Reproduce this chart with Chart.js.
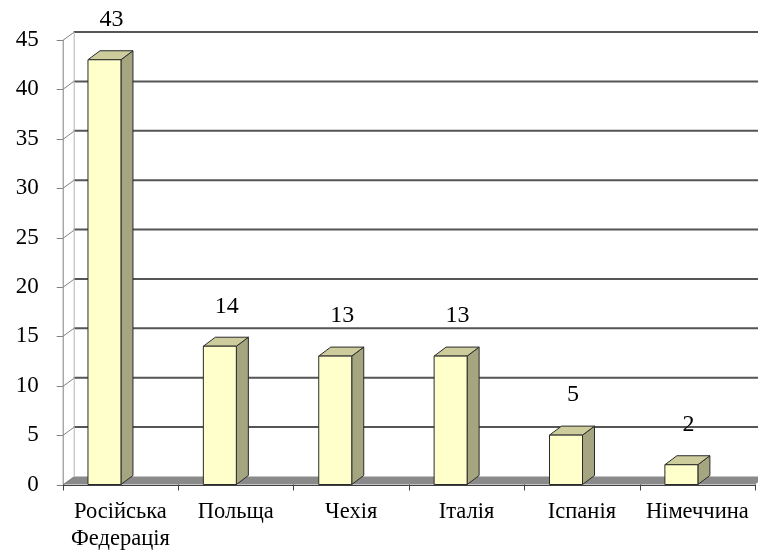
<!DOCTYPE html>
<html><head><meta charset="utf-8">
<script src="https://cdn.jsdelivr.net/npm/chart.js@4.4.0/dist/chart.umd.min.js"></script>
<style>html,body{margin:0;padding:0;background:#fff;}#wrap{width:758px;height:552px;position:relative;}</style>
</head><body><div id="wrap"><canvas id="c" width="758" height="552"></canvas></div>
<script>
const categories = [['Російська','Федерація'], 'Польща', 'Чехія', 'Італія', 'Іспанія', 'Німеччина'];
const values = [43, 14, 13, 13, 5, 2];
const yMin = 0, yMax = 45, yStep = 5;

const FONT = 'Liberation Serif, Times New Roman, serif';
const WALL = {dx: 11, dy: -8};
const BAR = {dx: 12, dy: -9};

const threeD = {
  id: 'threeD',
  beforeDatasetsDraw(chart) {
    const {ctx, chartArea: a, scales: {x, y}} = chart;
    const W = chart.width;
    const y0 = y.getPixelForValue(0);
    ctx.save();
    // floor
    ctx.fillStyle = '#8a8a8a';
    ctx.beginPath();
    ctx.moveTo(a.left, y0); ctx.lineTo(a.right, y0);
    ctx.lineTo(a.right + WALL.dx, y0 + WALL.dy); ctx.lineTo(a.left + WALL.dx, y0 + WALL.dy);
    ctx.closePath(); ctx.fill();
    // back wall gridlines
    y.ticks.forEach(t => {
      if (t.value === 0) return;
      const yy = y.getPixelForValue(t.value) + WALL.dy;
      ctx.strokeStyle = '#555555'; ctx.lineWidth = 2;
      ctx.beginPath(); ctx.moveTo(a.left + WALL.dx, yy); ctx.lineTo(W, yy); ctx.stroke();
    });
    // left wall back edge
    ctx.strokeStyle = '#b4b4b4'; ctx.lineWidth = 1;
    ctx.beginPath();
    ctx.moveTo(a.left + WALL.dx + 0.5, y.getPixelForValue(yMax) + WALL.dy);
    ctx.lineTo(a.left + WALL.dx + 0.5, y0 + WALL.dy); ctx.stroke();
    // front axis line + connectors + tick marks
    ctx.strokeStyle = '#808080'; ctx.lineWidth = 1;
    ctx.beginPath();
    ctx.moveTo(a.left + 0.5, y.getPixelForValue(yMax)); ctx.lineTo(a.left + 0.5, y0); ctx.stroke();
    y.ticks.forEach(t => {
      const yy = Math.round(y.getPixelForValue(t.value)) + 0.5;
      ctx.beginPath();
      ctx.moveTo(a.left - 6, yy); ctx.lineTo(a.left, yy);
      ctx.lineTo(a.left + WALL.dx, yy + WALL.dy);
      ctx.stroke();
    });
    // bottom axis
    ctx.strokeStyle = '#404040';
    ctx.beginPath(); ctx.moveTo(a.left, Math.round(y0) + 0.5); ctx.lineTo(a.right, Math.round(y0) + 0.5); ctx.stroke();
    const n = chart.data.labels.length;
    const cw = (a.right - a.left) / n;
    for (let i = 0; i <= n; i++) {
      const xx = Math.round(x.getPixelForValue(0) - cw / 2 + i * cw) + 0.5;
      ctx.beginPath(); ctx.moveTo(xx, y0); ctx.lineTo(xx, y0 + 6); ctx.stroke();
    }
    ctx.restore();
  },
  afterDatasetsDraw(chart) {
    const {ctx, chartArea: a} = chart;
    const meta = chart.getDatasetMeta(0);
    const n = chart.data.labels.length;
    const cw = (a.right - a.left) / n;
    const shift = -0.138 * cw;
    ctx.save();
    ctx.lineWidth = 1; ctx.strokeStyle = '#2a2a2a'; ctx.lineJoin = 'round';
    meta.data.forEach((el, i) => {
      const w = el.width;
      const cx = el.x + shift;
      const l = cx - w / 2, r = cx + w / 2, t = el.y, b = el.base;
      // side
      ctx.fillStyle = '#a5a580';
      ctx.beginPath();
      ctx.moveTo(r, b); ctx.lineTo(r + BAR.dx, b + BAR.dy); ctx.lineTo(r + BAR.dx, t + BAR.dy); ctx.lineTo(r, t); ctx.closePath();
      ctx.fill(); ctx.stroke();
      // top
      ctx.fillStyle = '#cccc9c';
      ctx.beginPath();
      ctx.moveTo(l, t); ctx.lineTo(l + BAR.dx, t + BAR.dy); ctx.lineTo(r + BAR.dx, t + BAR.dy); ctx.lineTo(r, t); ctx.closePath();
      ctx.fill(); ctx.stroke();
      // front
      ctx.fillStyle = '#ffffcc';
      ctx.fillRect(l, t, w, b - t);
      ctx.strokeRect(l, t, w, b - t);
    });
    // data labels
    ctx.fillStyle = '#000';
    ctx.font = '24px ' + FONT;
    ctx.textAlign = 'center'; ctx.textBaseline = 'middle';
    meta.data.forEach((el, i) => {
      const cx = el.x + shift;
      ctx.fillText(String(values[i]), cx + 7, el.y - 40);
    });
    ctx.restore();
  }
};

new Chart(document.getElementById('c'), {
  type: 'bar',
  data: {
    labels: categories,
    datasets: [{
      data: values,
      backgroundColor: 'rgba(0,0,0,0)',
      borderWidth: 0,
      barPercentage: 0.286,
      categoryPercentage: 1
    }]
  },
  options: {
    responsive: false,
    animation: false,
    devicePixelRatio: 1,
    layout: {padding: {top: 40, right: 3, left: 0, bottom: 0}},
    plugins: {legend: {display: false}, tooltip: {enabled: false}, title: {display: false}},
    scales: {
      x: {
        type: 'category', offset: true,
        grid: {display: false, drawTicks: false},
        border: {display: false},
        ticks: {font: {family: FONT, size: 22.5, lineHeight: 1.2}, color: '#000', padding: 14, maxRotation: 0, autoSkip: false},
        afterFit(s) { s.height = 552 - 484.5; s.paddingLeft = 0; s.paddingRight = 0; }
      },
      y: {
        min: yMin, max: yMax,
        grid: {display: false, drawTicks: false},
        border: {display: false},
        ticks: {stepSize: yStep, font: {family: FONT, size: 23}, color: '#000', padding: 24},
        afterFit(s) { s.width = 62.7; s.paddingTop = 0; s.paddingBottom = 0; }
      }
    }
  },
  plugins: [threeD]
});
</script>
</body></html>
